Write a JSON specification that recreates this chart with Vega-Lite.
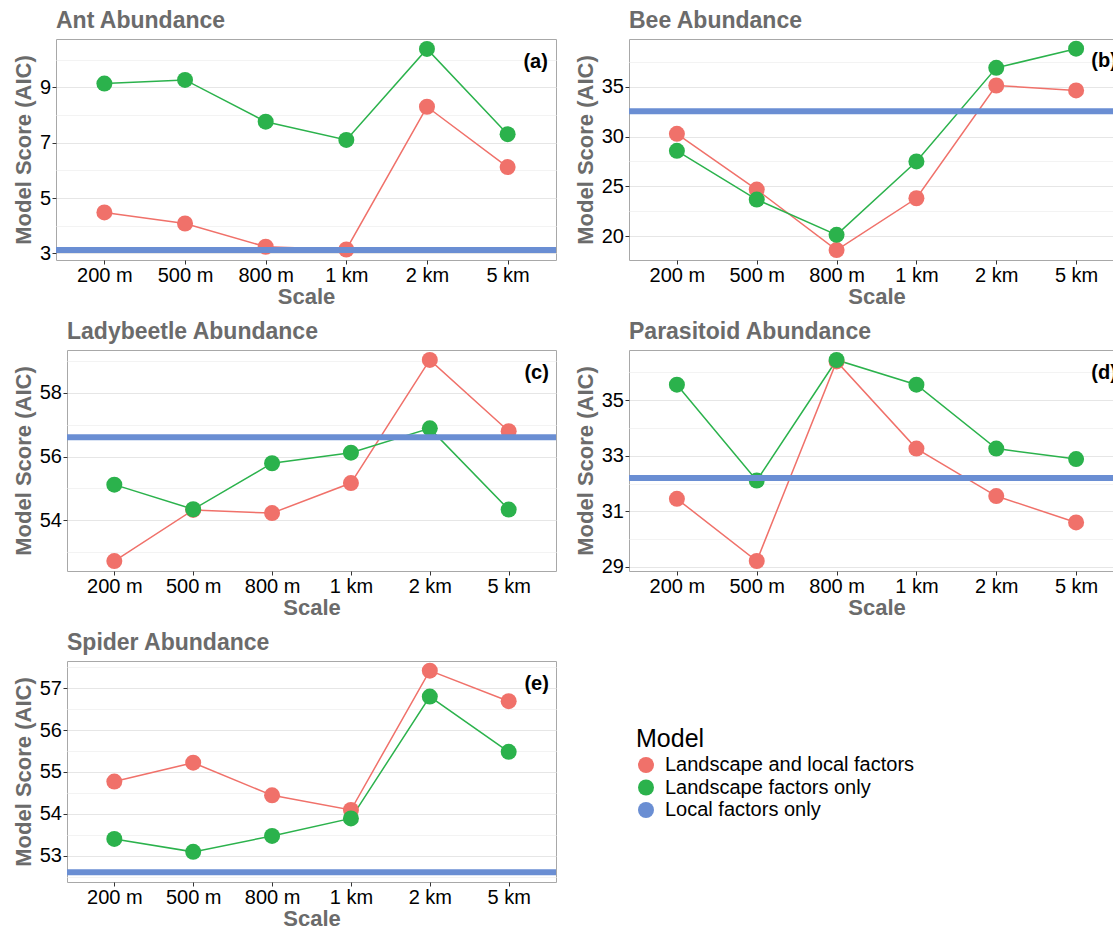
{
  "$schema": "https://vega.github.io/schema/vega-lite/v6.json",
  "padding": {"left": -3, "top": 9, "right": 0, "bottom": 0},
  "background": "white",
  "datasets": {
    "main": [
      {"panel": "a", "scale": "200 m", "model": "Landscape and local factors", "aic": 4.48},
      {"panel": "a", "scale": "500 m", "model": "Landscape and local factors", "aic": 4.08},
      {"panel": "a", "scale": "800 m", "model": "Landscape and local factors", "aic": 3.24},
      {"panel": "a", "scale": "1 km", "model": "Landscape and local factors", "aic": 3.14},
      {"panel": "a", "scale": "2 km", "model": "Landscape and local factors", "aic": 8.30},
      {"panel": "a", "scale": "5 km", "model": "Landscape and local factors", "aic": 6.12},
      {"panel": "a", "scale": "200 m", "model": "Landscape factors only", "aic": 9.14},
      {"panel": "a", "scale": "500 m", "model": "Landscape factors only", "aic": 9.27},
      {"panel": "a", "scale": "800 m", "model": "Landscape factors only", "aic": 7.76},
      {"panel": "a", "scale": "1 km", "model": "Landscape factors only", "aic": 7.10},
      {"panel": "a", "scale": "2 km", "model": "Landscape factors only", "aic": 10.39},
      {"panel": "a", "scale": "5 km", "model": "Landscape factors only", "aic": 7.31},
      {"panel": "a", "scale": "all", "model": "Local factors only", "aic": 3.12},
      {"panel": "b", "scale": "200 m", "model": "Landscape and local factors", "aic": 30.27},
      {"panel": "b", "scale": "500 m", "model": "Landscape and local factors", "aic": 24.67},
      {"panel": "b", "scale": "800 m", "model": "Landscape and local factors", "aic": 18.6},
      {"panel": "b", "scale": "1 km", "model": "Landscape and local factors", "aic": 23.8},
      {"panel": "b", "scale": "2 km", "model": "Landscape and local factors", "aic": 35.13},
      {"panel": "b", "scale": "5 km", "model": "Landscape and local factors", "aic": 34.63},
      {"panel": "b", "scale": "200 m", "model": "Landscape factors only", "aic": 28.57},
      {"panel": "b", "scale": "500 m", "model": "Landscape factors only", "aic": 23.67},
      {"panel": "b", "scale": "800 m", "model": "Landscape factors only", "aic": 20.13},
      {"panel": "b", "scale": "1 km", "model": "Landscape factors only", "aic": 27.5},
      {"panel": "b", "scale": "2 km", "model": "Landscape factors only", "aic": 36.9},
      {"panel": "b", "scale": "5 km", "model": "Landscape factors only", "aic": 38.83},
      {"panel": "b", "scale": "all", "model": "Local factors only", "aic": 32.53},
      {"panel": "c", "scale": "200 m", "model": "Landscape and local factors", "aic": 52.73},
      {"panel": "c", "scale": "500 m", "model": "Landscape and local factors", "aic": 54.33},
      {"panel": "c", "scale": "800 m", "model": "Landscape and local factors", "aic": 54.23},
      {"panel": "c", "scale": "1 km", "model": "Landscape and local factors", "aic": 55.17},
      {"panel": "c", "scale": "2 km", "model": "Landscape and local factors", "aic": 59.02},
      {"panel": "c", "scale": "5 km", "model": "Landscape and local factors", "aic": 56.79},
      {"panel": "c", "scale": "200 m", "model": "Landscape factors only", "aic": 55.12},
      {"panel": "c", "scale": "500 m", "model": "Landscape factors only", "aic": 54.35},
      {"panel": "c", "scale": "800 m", "model": "Landscape factors only", "aic": 55.79},
      {"panel": "c", "scale": "1 km", "model": "Landscape factors only", "aic": 56.12},
      {"panel": "c", "scale": "2 km", "model": "Landscape factors only", "aic": 56.88},
      {"panel": "c", "scale": "5 km", "model": "Landscape factors only", "aic": 54.34},
      {"panel": "c", "scale": "all", "model": "Local factors only", "aic": 56.6},
      {"panel": "d", "scale": "200 m", "model": "Landscape and local factors", "aic": 31.45},
      {"panel": "d", "scale": "500 m", "model": "Landscape and local factors", "aic": 29.21},
      {"panel": "d", "scale": "800 m", "model": "Landscape and local factors", "aic": 36.4},
      {"panel": "d", "scale": "1 km", "model": "Landscape and local factors", "aic": 33.26},
      {"panel": "d", "scale": "2 km", "model": "Landscape and local factors", "aic": 31.55},
      {"panel": "d", "scale": "5 km", "model": "Landscape and local factors", "aic": 30.6},
      {"panel": "d", "scale": "200 m", "model": "Landscape factors only", "aic": 35.56},
      {"panel": "d", "scale": "500 m", "model": "Landscape factors only", "aic": 32.11},
      {"panel": "d", "scale": "800 m", "model": "Landscape factors only", "aic": 36.45},
      {"panel": "d", "scale": "1 km", "model": "Landscape factors only", "aic": 35.56},
      {"panel": "d", "scale": "2 km", "model": "Landscape factors only", "aic": 33.26},
      {"panel": "d", "scale": "5 km", "model": "Landscape factors only", "aic": 32.88},
      {"panel": "d", "scale": "all", "model": "Local factors only", "aic": 32.2},
      {"panel": "e", "scale": "200 m", "model": "Landscape and local factors", "aic": 54.77},
      {"panel": "e", "scale": "500 m", "model": "Landscape and local factors", "aic": 55.22},
      {"panel": "e", "scale": "800 m", "model": "Landscape and local factors", "aic": 54.44},
      {"panel": "e", "scale": "1 km", "model": "Landscape and local factors", "aic": 54.09},
      {"panel": "e", "scale": "2 km", "model": "Landscape and local factors", "aic": 57.42},
      {"panel": "e", "scale": "5 km", "model": "Landscape and local factors", "aic": 56.69},
      {"panel": "e", "scale": "200 m", "model": "Landscape factors only", "aic": 53.4},
      {"panel": "e", "scale": "500 m", "model": "Landscape factors only", "aic": 53.09},
      {"panel": "e", "scale": "800 m", "model": "Landscape factors only", "aic": 53.47},
      {"panel": "e", "scale": "1 km", "model": "Landscape factors only", "aic": 53.89},
      {"panel": "e", "scale": "2 km", "model": "Landscape factors only", "aic": 56.8},
      {"panel": "e", "scale": "5 km", "model": "Landscape factors only", "aic": 55.48},
      {"panel": "e", "scale": "all", "model": "Local factors only", "aic": 52.6}
    ],
    "labels": [
      {"panel": "a", "label": "(a)", "aic": 9.93},
      {"panel": "b", "label": "(b)", "aic": 37.6},
      {"panel": "c", "label": "(c)", "aic": 58.62},
      {"panel": "d", "label": "(d)", "aic": 35.98},
      {"panel": "e", "label": "(e)", "aic": 57.1}
    ]
  },
  "data": {"name": "main"},
  "config": {
    "font": "Liberation Sans",
    "view": {"stroke": "#A8A8A8", "strokeWidth": 1},
    "axis": {
      "gridColor": "#E6E6E6", "gridWidth": 1, "domain": false,
      "tickColor": "#333333", "tickSize": 4, "tickWidth": 1,
      "labelFontSize": 20, "labelColor": "#000000", "labelPadding": 1.5,
      "titleFontSize": 22, "titleFontWeight": "bold", "titleColor": "#6B6B6B", "titlePadding": 4
    },
    "axisX": {"titlePadding": 1},
    "title": {"fontSize": 23, "fontWeight": "bold", "color": "#6B6B6B", "anchor": "start", "frame": "group", "offset": 6, "baseline": "alphabetic"},
    "legend": {
      "orient": "none", "legendX": 639, "legendY": 688,
      "titleFontSize": 25, "titleFontWeight": "normal", "titleColor": "#000000", "titlePadding": 3,
      "labelFontSize": 20, "labelColor": "#000000", "labelOffset": 9, "labelLimit": 0,
      "symbolType": "circle", "symbolSize": 256, "symbolStrokeWidth": 0, "symbolOpacity": 1,
      "rowPadding": 2.5, "padding": 0
    }
  },
  "spacing": 12,
  "vconcat": [
    {
      "spacing": 13,
      "hconcat": [
        {"width": 1, "height": 1, "data": {"values": []}, "mark": {"type": "point", "opacity": 0}, "view": {"stroke": null}},
        {
          "width": 500, "height": 221,
          "title": {"text": "Ant Abundance"},
          "resolve": {"axis": {"y": "independent"}},
          "layer": [
            {"transform": [{"filter": "datum.panel == 'a' && datum.model != 'Local factors only'"}],
             "mark": {"type": "line", "strokeWidth": 1.5},
             "encoding": {
               "x": {"field": "scale", "type": "nominal", "scale": {"type": "point", "padding": 0.6, "domain": ["200 m", "500 m", "800 m", "1 km", "2 km", "5 km"]}, "axis": {"title": "Scale", "labelAngle": 0}},
               "y": {"field": "aic", "type": "quantitative", "scale": {"domain": [2.76, 10.75], "nice": false, "zero": false}, "axis": {"values": [3, 5, 7, 9], "title": "Model Score (AIC)", "orient": "left"}},
               "color": {"field": "model", "type": "nominal", "title": "Model", "scale": {"domain": ["Landscape and local factors", "Landscape factors only", "Local factors only"], "range": ["#F0716A", "#2BB24C", "#6A8ED3"]}}
             }},
            {"transform": [{"filter": "datum.panel == 'a' && datum.model != 'Local factors only'"}],
             "mark": {"type": "point", "filled": true, "size": 256, "opacity": 1},
             "encoding": {
               "x": {"field": "scale", "type": "nominal"},
               "y": {"field": "aic", "type": "quantitative", "axis": null},
               "color": {"field": "model", "type": "nominal"}
             }},
            {"transform": [{"filter": "datum.panel == 'a' && datum.model == 'Local factors only'"}],
             "mark": {"type": "rule", "strokeWidth": 6},
             "encoding": {
               "y": {"field": "aic", "type": "quantitative", "axis": {"values": [4, 6, 8, 10], "orient": "left", "grid": true, "gridColor": "#F3F3F3", "labels": false, "ticks": false, "domain": false, "title": null, "minExtent": 0, "maxExtent": 0}},
               "color": {"field": "model", "type": "nominal"}
             }},
            {"data": {"name": "labels"},
             "transform": [{"filter": "datum.panel == 'a'"}],
             "mark": {"type": "text", "fontSize": 20, "fontWeight": "bold", "color": "#000000", "dx": 28},
             "encoding": {
               "x": {"datum": "5 km", "type": "nominal"},
               "y": {"field": "aic", "type": "quantitative", "axis": null},
               "text": {"field": "label"}
             }}
          ]
        },
        {
          "width": 495, "height": 221,
          "title": {"text": "Bee Abundance"},
          "resolve": {"axis": {"y": "independent"}},
          "layer": [
            {"transform": [{"filter": "datum.panel == 'b' && datum.model != 'Local factors only'"}],
             "mark": {"type": "line", "strokeWidth": 1.5},
             "encoding": {
               "x": {"field": "scale", "type": "nominal", "scale": {"type": "point", "padding": 0.6, "domain": ["200 m", "500 m", "800 m", "1 km", "2 km", "5 km"]}, "axis": {"title": "Scale", "labelAngle": 0}},
               "y": {"field": "aic", "type": "quantitative", "scale": {"domain": [17.6, 39.8], "nice": false, "zero": false}, "axis": {"values": [20, 25, 30, 35], "title": "Model Score (AIC)", "orient": "left"}},
               "color": {"field": "model", "type": "nominal"}
             }},
            {"transform": [{"filter": "datum.panel == 'b' && datum.model != 'Local factors only'"}],
             "mark": {"type": "point", "filled": true, "size": 256, "opacity": 1},
             "encoding": {
               "x": {"field": "scale", "type": "nominal"},
               "y": {"field": "aic", "type": "quantitative", "axis": null},
               "color": {"field": "model", "type": "nominal"}
             }},
            {"transform": [{"filter": "datum.panel == 'b' && datum.model == 'Local factors only'"}],
             "mark": {"type": "rule", "strokeWidth": 6},
             "encoding": {
               "y": {"field": "aic", "type": "quantitative", "axis": {"values": [17.5, 22.5, 27.5, 32.5, 37.5], "orient": "left", "grid": true, "gridColor": "#F3F3F3", "labels": false, "ticks": false, "domain": false, "title": null, "minExtent": 0, "maxExtent": 0}},
               "color": {"field": "model", "type": "nominal"}
             }},
            {"data": {"name": "labels"},
             "transform": [{"filter": "datum.panel == 'b'"}],
             "mark": {"type": "text", "fontSize": 20, "fontWeight": "bold", "color": "#000000", "dx": 28},
             "encoding": {
               "x": {"datum": "5 km", "type": "nominal"},
               "y": {"field": "aic", "type": "quantitative", "axis": null},
               "text": {"field": "label"}
             }}
          ]
        }
      ]
    },
    {
      "spacing": 13,
      "hconcat": [
        {"width": 1, "height": 1, "data": {"values": []}, "mark": {"type": "point", "opacity": 0}, "view": {"stroke": null}},
        {
          "width": 489, "height": 221,
          "title": {"text": "Ladybeetle Abundance"},
          "resolve": {"axis": {"y": "independent"}},
          "layer": [
            {"transform": [{"filter": "datum.panel == 'c' && datum.model != 'Local factors only'"}],
             "mark": {"type": "line", "strokeWidth": 1.5},
             "encoding": {
               "x": {"field": "scale", "type": "nominal", "scale": {"type": "point", "padding": 0.6, "domain": ["200 m", "500 m", "800 m", "1 km", "2 km", "5 km"]}, "axis": {"title": "Scale", "labelAngle": 0}},
               "y": {"field": "aic", "type": "quantitative", "scale": {"domain": [52.42, 59.33], "nice": false, "zero": false}, "axis": {"values": [54, 56, 58], "title": "Model Score (AIC)", "orient": "left"}},
               "color": {"field": "model", "type": "nominal"}
             }},
            {"transform": [{"filter": "datum.panel == 'c' && datum.model != 'Local factors only'"}],
             "mark": {"type": "point", "filled": true, "size": 256, "opacity": 1},
             "encoding": {
               "x": {"field": "scale", "type": "nominal"},
               "y": {"field": "aic", "type": "quantitative", "axis": null},
               "color": {"field": "model", "type": "nominal"}
             }},
            {"transform": [{"filter": "datum.panel == 'c' && datum.model == 'Local factors only'"}],
             "mark": {"type": "rule", "strokeWidth": 6},
             "encoding": {
               "y": {"field": "aic", "type": "quantitative", "axis": {"values": [53, 55, 57, 59], "orient": "left", "grid": true, "gridColor": "#F3F3F3", "labels": false, "ticks": false, "domain": false, "title": null, "minExtent": 0, "maxExtent": 0}},
               "color": {"field": "model", "type": "nominal"}
             }},
            {"data": {"name": "labels"},
             "transform": [{"filter": "datum.panel == 'c'"}],
             "mark": {"type": "text", "fontSize": 20, "fontWeight": "bold", "color": "#000000", "dx": 28},
             "encoding": {
               "x": {"datum": "5 km", "type": "nominal"},
               "y": {"field": "aic", "type": "quantitative", "axis": null},
               "text": {"field": "label"}
             }}
          ]
        },
        {
          "width": 495, "height": 221,
          "title": {"text": "Parasitoid Abundance"},
          "resolve": {"axis": {"y": "independent"}},
          "layer": [
            {"transform": [{"filter": "datum.panel == 'd' && datum.model != 'Local factors only'"}],
             "mark": {"type": "line", "strokeWidth": 1.5},
             "encoding": {
               "x": {"field": "scale", "type": "nominal", "scale": {"type": "point", "padding": 0.6, "domain": ["200 m", "500 m", "800 m", "1 km", "2 km", "5 km"]}, "axis": {"title": "Scale", "labelAngle": 0}},
               "y": {"field": "aic", "type": "quantitative", "scale": {"domain": [28.85, 36.81], "nice": false, "zero": false}, "axis": {"values": [29, 31, 33, 35], "title": "Model Score (AIC)", "orient": "left"}},
               "color": {"field": "model", "type": "nominal"}
             }},
            {"transform": [{"filter": "datum.panel == 'd' && datum.model != 'Local factors only'"}],
             "mark": {"type": "point", "filled": true, "size": 256, "opacity": 1},
             "encoding": {
               "x": {"field": "scale", "type": "nominal"},
               "y": {"field": "aic", "type": "quantitative", "axis": null},
               "color": {"field": "model", "type": "nominal"}
             }},
            {"transform": [{"filter": "datum.panel == 'd' && datum.model == 'Local factors only'"}],
             "mark": {"type": "rule", "strokeWidth": 6},
             "encoding": {
               "y": {"field": "aic", "type": "quantitative", "axis": {"values": [30, 32, 34, 36], "orient": "left", "grid": true, "gridColor": "#F3F3F3", "labels": false, "ticks": false, "domain": false, "title": null, "minExtent": 0, "maxExtent": 0}},
               "color": {"field": "model", "type": "nominal"}
             }},
            {"data": {"name": "labels"},
             "transform": [{"filter": "datum.panel == 'd'"}],
             "mark": {"type": "text", "fontSize": 20, "fontWeight": "bold", "color": "#000000", "dx": 28},
             "encoding": {
               "x": {"datum": "5 km", "type": "nominal"},
               "y": {"field": "aic", "type": "quantitative", "axis": null},
               "text": {"field": "label"}
             }}
          ]
        }
      ]
    },
    {
      "spacing": 13,
      "hconcat": [
        {"width": 1, "height": 1, "data": {"values": []}, "mark": {"type": "point", "opacity": 0}, "view": {"stroke": null}},
        {
          "width": 489, "height": 221,
          "title": {"text": "Spider Abundance"},
          "resolve": {"axis": {"y": "independent"}},
          "layer": [
            {"transform": [{"filter": "datum.panel == 'e' && datum.model != 'Local factors only'"}],
             "mark": {"type": "line", "strokeWidth": 1.5},
             "encoding": {
               "x": {"field": "scale", "type": "nominal", "scale": {"type": "point", "padding": 0.6, "domain": ["200 m", "500 m", "800 m", "1 km", "2 km", "5 km"]}, "axis": {"title": "Scale", "labelAngle": 0}},
               "y": {"field": "aic", "type": "quantitative", "scale": {"domain": [52.37, 57.65], "nice": false, "zero": false}, "axis": {"values": [53, 54, 55, 56, 57], "title": "Model Score (AIC)", "orient": "left"}},
               "color": {"field": "model", "type": "nominal"}
             }},
            {"transform": [{"filter": "datum.panel == 'e' && datum.model != 'Local factors only'"}],
             "mark": {"type": "point", "filled": true, "size": 256, "opacity": 1},
             "encoding": {
               "x": {"field": "scale", "type": "nominal"},
               "y": {"field": "aic", "type": "quantitative", "axis": null},
               "color": {"field": "model", "type": "nominal"}
             }},
            {"transform": [{"filter": "datum.panel == 'e' && datum.model == 'Local factors only'"}],
             "mark": {"type": "rule", "strokeWidth": 6},
             "encoding": {
               "y": {"field": "aic", "type": "quantitative", "axis": {"values": [52.5, 53.5, 54.5, 55.5, 56.5, 57.5], "orient": "left", "grid": true, "gridColor": "#F3F3F3", "labels": false, "ticks": false, "domain": false, "title": null, "minExtent": 0, "maxExtent": 0}},
               "color": {"field": "model", "type": "nominal"}
             }},
            {"data": {"name": "labels"},
             "transform": [{"filter": "datum.panel == 'e'"}],
             "mark": {"type": "text", "fontSize": 20, "fontWeight": "bold", "color": "#000000", "dx": 28},
             "encoding": {
               "x": {"datum": "5 km", "type": "nominal"},
               "y": {"field": "aic", "type": "quantitative", "axis": null},
               "text": {"field": "label"}
             }}
          ]
        }
      ]
    }
  ]
}
